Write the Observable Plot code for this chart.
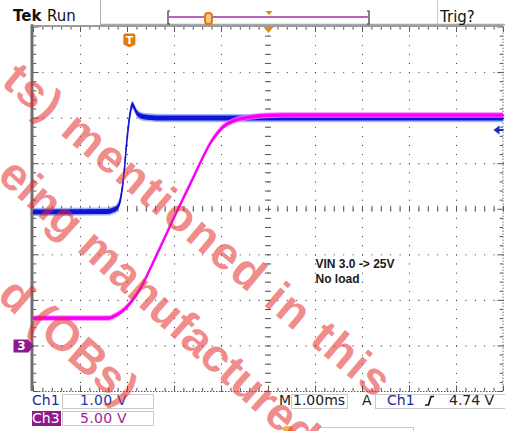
<!DOCTYPE html>
<html><head><meta charset="utf-8">
<script src="https://cdn.jsdelivr.net/npm/d3@7"></script>
<script src="https://cdn.jsdelivr.net/npm/@observablehq/plot@0.6"></script>
<style>
body{margin:0;background:#fff;}
#wrap{position:relative;width:505px;height:431px;overflow:hidden;font-family:"DejaVu Sans",sans-serif;}
.abs{position:absolute;white-space:nowrap;line-height:1;}
.box{position:absolute;border:1px solid #c9c9c9;box-sizing:border-box;}
.t14{position:absolute;font-size:14px;line-height:1;white-space:nowrap;}
</style></head><body>
<div id="wrap">
<div id="chart" class="abs" style="left:0;top:0"></div>
<svg class="abs" style="left:0;top:0" width="505" height="431" id="deco">
  <line x1="100.5" y1="0" x2="100.5" y2="25" stroke="#b5b5b5"/>
  <line x1="437.5" y1="0" x2="437.5" y2="25" stroke="#c8c8c8"/>
  <line x1="100" y1="24.5" x2="505" y2="24.5" stroke="#a8a8a8" stroke-width="1.5"/>
  <path d="M170,11 H168 V24 H170" fill="none" stroke="#333" stroke-width="1.2"/>
  <path d="M367,11 H369 V24 H367" fill="none" stroke="#333" stroke-width="1.2"/>
  <line x1="169" y1="17" x2="368" y2="17" stroke="#a030a0" stroke-width="1.3"/>
  <rect x="205" y="13" width="7" height="11" rx="3" fill="#f5c48a" stroke="#e07a10" stroke-width="2"/>
  <path d="M265.5,11 L272.5,11 L269,15 Z" fill="#e8870e"/>
  <path d="M425,405 H428.5 L431,396.5 H434" fill="none" stroke="#111" stroke-width="1.6"/>
  <rect x="283" y="426" width="10" height="10" rx="3" fill="#f0b060"/>
  <rect x="318.5" y="427.5" width="95" height="10" fill="none" stroke="#c9c9c9"/>
</svg>
<div class="t14" style="left:13px;top:9px;font-size:15px;font-weight:bold;color:#111">Tek</div>
<div class="t14" style="left:47px;top:9px;font-size:15px;color:#111">Run</div>
<div class="t14" style="left:440px;top:10px;font-size:15px;color:#111">Trig?</div>

<div class="t14" style="left:32px;top:393px;color:#1b2a9c">Ch1</div>
<div class="box" style="left:62px;top:394px;width:92px;height:15px"></div>
<div class="t14" style="left:80px;top:393px;color:#2233b0;letter-spacing:0.3px">1.00 V</div>
<div class="abs" style="left:32px;top:411px;width:29px;height:15px;background:#8e1a8c"></div>
<div class="t14" style="left:32px;top:411px;color:#fff">Ch3</div>
<div class="box" style="left:62px;top:411px;width:92px;height:15px"></div>
<div class="t14" style="left:80px;top:411px;color:#a0239b;letter-spacing:0.3px">5.00 V</div>
<div class="t14" style="left:279px;top:393px;color:#222">M</div>
<div class="box" style="left:291px;top:394px;width:57px;height:15px"></div>
<div class="t14" style="left:293px;top:393px;color:#222">1.00ms</div>
<div class="t14" style="left:362px;top:393px;color:#222">A</div>
<div class="box" style="left:375px;top:394px;width:132px;height:15px"></div>
<div class="t14" style="left:387px;top:393px;color:#1b2a9c">Ch1</div>
<div class="t14" style="left:449px;top:393px;color:#222">4.74 V</div>

<svg class="abs" style="left:0;top:0;pointer-events:none" width="505" height="431" id="wm">
  <g font-family="Liberation Sans, Arial, sans-serif" font-weight="bold" font-size="46" fill="rgb(230,40,40)" fill-opacity="0.55">
    <text transform="translate(0,84) rotate(40)" letter-spacing="2">ts) mentioned in this</text>
    <text transform="translate(-4,178) rotate(42)">eing manufactured in this</text>
    <text transform="translate(-4,298) rotate(41)">d (OBs)</text>
  </g>
</svg>
</div>
<script>
const msPerDiv = 1.00;          // M 1.00ms
const ch1VoltsPerDiv = 1.00;    // Ch1 1.00 V
const ch3VoltsPerDiv = 5.00;    // Ch3 5.00 V
const ch1OffsetDiv = -3;        // ground positions (divisions from centre)
const ch3OffsetDiv = -3;
const triggerLevel = 4.74;      // V on Ch1
const triggerPosition = -2.96;  // ms, "T" marker
const annotationLines = ["VIN 3.0 -> 25V", "No load"];

// Ch1 (output) — time in ms relative to screen centre, volts
const ch1Time  = [-5.0, -3.40, -3.30, -3.22, -3.15, -3.08, -3.01, -2.94, -2.89, -2.79, -2.72, -2.58, -2.16, 0.50, 5.0];
const ch1Volts = [2.93, 2.94, 2.97, 3.01, 3.19, 3.70, 4.51, 5.10, 5.28, 5.10, 5.04, 5.01, 4.99, 4.99, 4.99];

// Ch3 (VIN)
const ch3Time  = [-5.0, -3.40, -3.26, -3.11, -2.94, -2.72, -2.51, -2.30, -2.13, -1.94, -1.66, -1.45, -1.23, -1.11, -0.96, -0.74, -0.38, -0.02, 0.68, 5.0];
const ch3Volts = [3.0, 3.0, 3.27, 3.76, 4.62, 6.27, 8.46, 10.77, 12.67, 14.76, 17.74, 20.03, 22.23, 23.11, 23.99, 24.64, 25.08, 25.25, 25.30, 25.30];

// ---- build ----
const toDiv1 = v => v / ch1VoltsPerDiv + ch1OffsetDiv;
const toDiv3 = v => v / ch3VoltsPerDiv + ch3OffsetDiv;
const ch1 = ch1Time.map((t, i) => ({t: t / msPerDiv, y: toDiv1(ch1Volts[i])}));
const ch3 = ch3Time.map((t, i) => ({t: t / msPerDiv, y: toDiv3(ch3Volts[i])}));

const xMinor = d3.range(-25, 26).map(i => i / 5);
const yMinor = d3.range(-20, 21).map(i => i / 5);
const xMajor = d3.range(-4, 5);
const yMajor = d3.range(-3, 4);
const gridPts = [];
for (const x of xMajor) for (const y of yMinor) gridPts.push({x, y});
for (const y of yMajor) for (const x of xMinor) gridPts.push({x, y});

const downTri = {draw(c){c.moveTo(-5,0);c.lineTo(5,0);c.lineTo(0,6);c.closePath();}};
const shield = {draw(c){c.moveTo(-6,-5);c.quadraticCurveTo(-6,-7,-4,-7);c.lineTo(4,-7);c.quadraticCurveTo(6,-7,6,-5);c.lineTo(6,4);c.lineTo(0,7);c.lineTo(-6,4);c.closePath();}};
const chTag = {draw(c){c.moveTo(-20,-6.5);c.lineTo(-5,-6.5);c.lineTo(0,0);c.lineTo(-5,6.5);c.lineTo(-20,6.5);c.closePath();}};
const levelArrow = {draw(c){c.moveTo(-10,0);c.lineTo(-4,-4.5);c.lineTo(-4,4.5);c.closePath();c.moveTo(-4,-1);c.lineTo(0,-1);c.lineTo(0,1);c.lineTo(-4,1);c.closePath();}};

const band = (data, w, fill, op) => Plot.areaY(data, {x: "t", y1: d => d.y - w, y2: d => d.y + w, fill, fillOpacity: op, curve: "monotone-x"});

const plot = Plot.plot({
  width: 505, height: 431,
  marginLeft: 33, marginRight: 2, marginTop: 26.5, marginBottom: 40,
  x: {domain: [-5, 5], axis: null},
  y: {domain: [-4, 4], axis: null},
  style: {background: "transparent", overflow: "visible"},
  marks: [
    Plot.dot(gridPts, {x: "x", y: "y", r: 0.6, fill: "#3a3a3a", stroke: null}),
    Plot.ruleX(xMinor, {x: d => d, y1: -0.065, y2: 0.065, stroke: "#555", strokeWidth: 1}),
    Plot.ruleY(yMinor, {y: d => d, x1: -0.065, x2: 0.065, stroke: "#555", strokeWidth: 1}),
    Plot.ruleX(xMinor, {x: d => d, y1: 4, y2: d => Number.isInteger(d) ? 3.88 : 3.93, stroke: "#555"}),
    Plot.ruleX(xMinor, {x: d => d, y1: -4, y2: d => Number.isInteger(d) ? -3.88 : -3.93, stroke: "#555"}),
    Plot.ruleY(yMinor, {y: d => d, x1: -5, x2: d => Number.isInteger(d) ? -4.88 : -4.93, stroke: "#555"}),
    Plot.ruleY(yMinor, {y: d => d, x1: 5, x2: d => Number.isInteger(d) ? 4.88 : 4.93, stroke: "#555"}),
    Plot.ruleX([-5], {stroke: "#707070", strokeWidth: 3, dx: -1.5, y1: 4.05, y2: -4}),
    Plot.ruleY([4], {stroke: "#9a9a9a", strokeWidth: 2, dy: -1}),
    Plot.ruleY([-4], {stroke: "#555", strokeDasharray: "1.5,1.5"}),
    Plot.ruleX([5], {stroke: "#777", strokeDasharray: "1.5,1.5", dx: -0.5}),
    band(ch1, 0.09, "#8aa2ff", 0.8),
    band(ch1, 0.055, "#1414d8", 1),
    Plot.line(ch1, {x: "t", y: "y", stroke: "#1010d0", strokeWidth: 1.4, curve: "monotone-x"}),
    band(ch3, 0.065, "#ff80ff", 0.8),
    band(ch3, 0.038, "#ff00ff", 1),
    Plot.line(ch3, {x: "t", y: "y", stroke: "#f000f0", strokeWidth: 1.6, curve: "monotone-x"}),
    Plot.text([annotationLines.join("\n")], {x: 1.0, y: -1.07, text: d => d, textAnchor: "start", lineAnchor: "top",
      fontSize: 12, fontWeight: "bold", fontFamily: "Liberation Sans, Arial, sans-serif", fill: "#1a1a1a", lineHeight: 1.2}),
    Plot.dot([0], {x: d => d, y: 4, symbol: downTri, fill: "#e8870e", stroke: null}),
    Plot.dot([triggerPosition], {x: d => d, y: 4, dy: 13.5, symbol: shield, fill: "#e07a10", stroke: null}),
    Plot.text([triggerPosition], {x: d => d, y: 4, dy: 13, text: () => "T", fill: "#fff", fontWeight: "bold", fontSize: 11, fontFamily: "DejaVu Sans"}),
    Plot.dot([ch3OffsetDiv], {x: -5, y: d => d, symbol: chTag, fill: "#8e1a8c", stroke: null}),
    Plot.text([ch3OffsetDiv], {x: -5, y: d => d, dx: -12, text: () => "3", fill: "#fff", fontWeight: "bold", fontSize: 12, fontFamily: "DejaVu Sans"}),
    Plot.dot([toDiv1(triggerLevel)], {x: 5, y: d => d, symbol: levelArrow, fill: "#1a2bb8", stroke: null})
  ]
});
document.getElementById("chart").appendChild(plot);
</script>
</body></html>
